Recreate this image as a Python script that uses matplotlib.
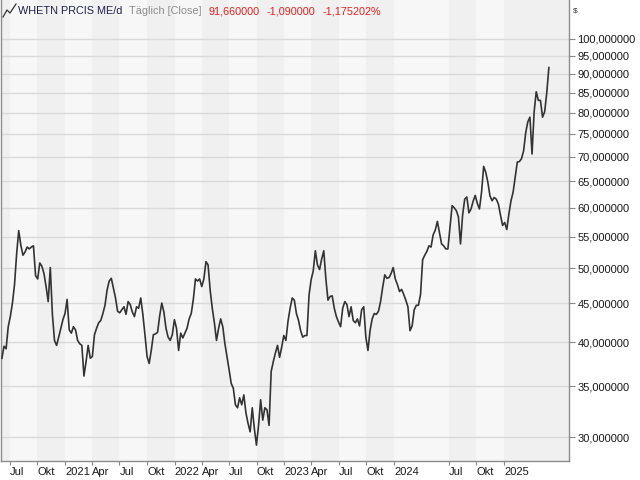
import numpy as np
import pandas as pd
import matplotlib
matplotlib.use('Agg')
import matplotlib.pyplot as plt
from matplotlib.ticker import FixedLocator, FuncFormatter, NullLocator
from matplotlib.lines import Line2D

plt.rcParams['font.family'] = ['Liberation Sans', 'DejaVu Sans']

kurs = [38.1, 39.5, 39.2, 41.9, 43.2, 45.0, 47.6, 52.2, 56.0, 53.6,
        52.0, 52.5, 53.3, 53.0, 53.3, 53.5, 48.9, 48.4, 50.8, 50.3,
        49.2, 47.3, 45.2, 50.1, 43.5, 40.2, 39.6, 40.6, 41.7, 42.8,
        43.6, 45.5, 41.5, 41.1, 41.9, 41.5, 40.2, 39.8, 39.6, 36.1,
        37.7, 39.6, 38.1, 38.3, 40.9, 41.7, 42.4, 42.7, 43.6, 44.7,
        46.8, 48.1, 48.5, 47.1, 45.7, 43.9, 43.7, 44.1, 44.5, 43.5,
        45.2, 44.8, 43.8, 43.2, 44.5, 44.3, 45.7, 43.5, 40.9, 38.3,
        37.5, 39.0, 40.9, 41.0, 41.2, 43.3, 45.0, 43.8, 41.7, 40.6,
        40.2, 40.9, 42.8, 41.7, 39.0, 41.1, 40.5, 41.1, 41.7, 42.9,
        43.6, 45.5, 48.4, 48.1, 48.4, 47.3, 48.4, 51.0, 50.5, 46.8,
        44.3, 42.4, 40.2, 41.7, 42.9, 41.9, 39.8, 38.3, 36.8, 35.3,
        34.8, 33.1, 32.8, 33.8, 33.1, 34.1, 32.3, 31.3, 30.5, 32.8,
        30.8, 29.3, 31.1, 33.6, 31.6, 32.8, 32.6, 31.1, 36.6, 37.7,
        38.7, 39.6, 38.2, 39.4, 40.8, 40.2, 42.6, 44.3, 45.7, 45.4,
        43.6, 42.7, 41.4, 40.6, 40.8, 40.8, 46.1, 48.3, 49.6, 52.7,
        50.5, 49.8, 51.4, 52.7, 48.4, 45.4, 45.9, 46.0, 44.3, 43.2,
        42.5, 41.9, 44.3, 45.2, 44.8, 43.2, 44.5, 42.7, 42.4, 42.9,
        42.0, 44.1, 44.5, 40.6, 39.0, 41.4, 42.9, 43.6, 43.5, 43.9,
        45.2, 47.2, 49.0, 48.5, 48.6, 49.2, 50.1, 48.4, 47.6, 46.6,
        46.9, 46.2, 45.4, 44.5, 41.4, 42.0, 44.1, 44.7, 44.7, 46.2,
        51.3, 52.0, 52.6, 53.5, 53.3, 55.3, 56.1, 57.6, 55.7, 53.8,
        53.5, 53.0, 53.0, 56.6, 60.4, 60.0, 59.5, 58.4, 53.8, 58.7,
        61.6, 62.0, 59.1, 59.8, 61.2, 62.3, 60.8, 59.8, 62.9, 68.0,
        66.8, 64.8, 62.2, 61.3, 61.9, 61.6, 60.7, 58.7, 56.9, 57.4,
        56.2, 58.9, 61.3, 62.9, 65.8, 68.9, 69.0, 69.6, 71.3, 75.3,
        77.8, 78.9, 70.6, 80.2, 85.2, 83.0, 83.0, 78.9, 80.2, 84.9,
        91.66]
datum = pd.date_range('2020-06-05', periods=len(kurs), freq='W-FRI')

tick_daten = pd.to_datetime(['2020-07-01', '2020-10-01', '2021-01-01', '2021-04-01',
                             '2021-07-01', '2021-10-01', '2022-01-01', '2022-04-01',
                             '2022-07-01', '2022-10-01', '2023-01-01', '2023-04-01',
                             '2023-07-01', '2023-10-01', '2024-01-01', '2024-07-01',
                             '2024-10-01', '2025-01-01'])
tick_namen = ['Jul', 'Okt', '2021', 'Apr', 'Jul', 'Okt', '2022', 'Apr', 'Jul', 'Okt',
              '2023', 'Apr', 'Jul', 'Okt', '2024', 'Jul', 'Okt', '2025']
y_ticks = [30, 35, 40, 45, 50, 55, 60, 65, 70, 75, 80, 85, 90, 95, 100]

titel_teile = ['WHETN PRCIS ME/d', 'Täglich [Close]', '91,660000', '-1,090000', '-1,175202%']
titel_farben = ['#20204a', '#8c8c8c', '#e02020', '#e02020', '#e02020']

x_von = pd.Timestamp('2020-06-02')
x_bis = pd.Timestamp('2025-08-05')

fig = plt.figure(figsize=(6.4, 4.8), dpi=100, facecolor='white')
ax = fig.add_axes([1/640, 19/480, 568/640, 461/480])
ax.set_facecolor('#f7f7f7')

# abwechselnde Hintergrundstreifen zwischen den beschrifteten Ticks
grenzen = [x_von] + list(tick_daten) + [x_bis]
for k in range(len(grenzen) - 1):
    if k % 2 == 0:
        ax.axvspan(grenzen[k], grenzen[k + 1], color='#f0f0f0', lw=0, zorder=0)

ax.plot(datum, kurs, color='#333333', lw=1.2, zorder=3)

ax.set_yscale('log')
ax.set_ylim(27.93, 112.4)
ax.set_xlim(x_von, x_bis)

ax.yaxis.tick_right()
ax.yaxis.set_major_locator(FixedLocator(y_ticks))
ax.yaxis.set_minor_locator(NullLocator())
ax.yaxis.set_major_formatter(FuncFormatter(lambda v, p: f'{v:.6f}'.replace('.', ',')))
ax.grid(axis='y', color='#d9d9d9', lw=1.0, zorder=1)

ax.set_xticks(tick_daten)
ax.set_xticklabels(tick_namen)
ax.xaxis.set_minor_locator(NullLocator())
for lab in ax.get_xticklabels():
    lab.set_horizontalalignment('left')

ax.tick_params(axis='y', which='major', length=4, width=0.8, color='#888888',
               labelsize=8, labelcolor='#1a1a1a', pad=2)
ax.tick_params(axis='x', which='major', length=3, width=0.8, color='#888888',
               labelsize=8, labelcolor='#1a1a1a', pad=1.5)

for s in ['left', 'bottom', 'right']:
    ax.spines[s].set_color('#8c8c8c')
    ax.spines[s].set_linewidth(1.0)
ax.spines['top'].set_visible(False)

# Titelzeile: kleines Liniensymbol, dann die Textteile nacheinander
fig.add_artist(Line2D([3/640, 7/640, 10/640, 16/640],
                      [1 - 17/480, 1 - 10/480, 1 - 13/480, 1 - 4/480],
                      color='#333333', lw=0.9))
renderer = fig.canvas.get_renderer()
tx = 18
ty = 1 - 11/480
for teil, farbe in zip(titel_teile, titel_farben):
    t = fig.text(tx/640, ty, teil, color=farbe, fontsize=7.8, va='center')
    tx += t.get_window_extent(renderer).width + 7
fig.text(573/640, ty, '$', color='#333333', fontsize=6, va='center')

fig.savefig('out.png', dpi=100, facecolor='white')
